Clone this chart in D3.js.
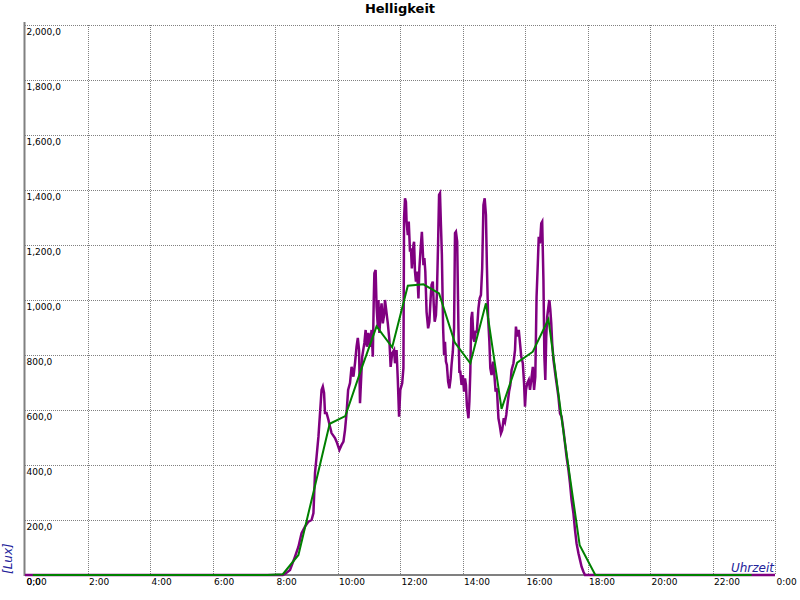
<!DOCTYPE html>
<html>
<head>
<meta charset="utf-8">
<script src="https://cdn.jsdelivr.net/npm/d3@7"></script>
<style>
  html, body { margin: 0; padding: 0; background: #fff; }
  svg { display: block; }
</style>
</head>
<body>
<svg id="chart" width="800" height="600"></svg>
<script>
// ---- data ----
const title = "Helligkeit";
const yAxisTitle = "[Lux]";
const xAxisTitle = "Uhrzeit";

const yTickValues = [0, 200, 400, 600, 800, 1000, 1200, 1400, 1600, 1800, 2000];
const yTickLabels = ["0,0", "200,0", "400,0", "600,0", "800,0", "1,000,0", "1,200,0", "1,400,0", "1,600,0", "1,800,0", "2,000,0"];
const xTickValues = [0, 2, 4, 6, 8, 10, 12, 14, 16, 18, 20, 22, 24];
const xTickLabels = ["0:00", "2:00", "4:00", "6:00", "8:00", "10:00", "12:00", "14:00", "16:00", "18:00", "20:00", "22:00", "0:00"];

// measured brightness (purple), hour of day -> lux
const measuredHours = [0, 8.25, 8.32, 8.48, 8.64, 8.75, 8.85, 8.96, 9.07, 9.17, 9.23, 9.28, 9.33, 9.39, 9.44, 9.49, 9.53, 9.57, 9.60, 9.65, 9.71, 9.76, 9.81, 9.92, 9.97, 10.06, 10.13, 10.19, 10.24, 10.29, 10.34,
  10.40, 10.45, 10.51, 10.56, 10.61, 10.65, 10.69, 10.72, 10.75, 10.79, 10.86, 10.90, 10.94, 10.99, 11.04, 11.09, 11.13, 11.16, 11.18, 11.22, 11.25, 11.29, 11.31, 11.34, 11.38, 11.41, 11.45, 11.49, 11.52, 11.57, 11.61, 11.66, 11.70, 11.75, 11.81, 11.84, 11.89, 11.93, 11.97, 12.01, 12.07, 12.11,
  12.13, 12.16, 12.19, 12.21, 12.25, 12.28, 12.32, 12.35, 12.38, 12.43, 12.45, 12.48, 12.51, 12.55, 12.59, 12.62, 12.66, 12.70, 12.75, 12.78, 12.81, 12.85, 12.90, 12.94, 12.98, 13.01, 13.05, 13.08, 13.11, 13.15, 13.18, 13.22, 13.25, 13.28, 13.31, 13.34, 13.38, 13.41, 13.44, 13.47, 13.50, 13.54, 13.58, 13.62, 13.65, 13.69, 13.73,
  13.76, 13.79, 13.83, 13.87, 13.90, 13.93, 13.97, 14.01, 14.05, 14.08, 14.11, 14.14, 14.19, 14.22, 14.25, 14.28, 14.31, 14.35, 14.38, 14.42, 14.46, 14.51, 14.55, 14.59, 14.63, 14.67, 14.71, 14.75, 14.78, 14.82, 14.86, 14.89, 14.93, 14.98, 15.02, 15.06, 15.10, 15.15, 15.19, 15.23, 15.27, 15.32, 15.36, 15.40, 15.45, 15.49,
  15.53, 15.57, 15.63, 15.68, 15.71, 15.75, 15.80, 15.84, 15.88, 15.93, 15.97, 16.00, 16.03, 16.07, 16.12, 16.16, 16.20, 16.25, 16.29, 16.33, 16.37, 16.41, 16.44, 16.48, 16.52, 16.55, 16.59, 16.62, 16.65, 16.68, 16.71, 16.75, 16.78, 16.81, 16.84, 16.87, 16.91, 16.94, 16.98, 17.01, 17.07, 17.12, 17.17, 17.23, 17.28, 17.33, 17.39, 17.44, 17.49, 17.55, 17.60, 17.65, 17.71, 17.76, 17.81, 17.87, 17.92, 24];
const measuredLux = [0, 0, 4, 18, 67, 103, 152, 176, 194, 200, 225, 371, 430, 503, 588, 673, 685, 662, 589, 589, 564, 539, 516, 498, 485, 455, 473, 485, 527, 589, 673,
  698, 757, 721, 770, 830, 862, 818, 625, 698, 794, 844, 891, 830, 880, 830, 891, 794, 1000, 1097, 1109, 976, 903, 1000, 880, 952, 988, 915, 945, 1000, 952, 915, 855, 757, 806, 818, 770, 818, 709, 576, 673, 697, 753,
  1298, 1370, 1357, 1285, 1236, 1285, 1176, 1188, 1115, 1200, 1212, 1103, 1067, 1103, 1006, 1115, 1188, 1248, 1127, 1152, 1103, 957, 897, 921, 1006, 1055, 1067, 982, 921, 945, 1018, 1212, 1382, 1388, 1273, 1164, 897, 800, 848, 776, 764, 703, 679, 715, 764, 812, 897,
  1243, 1248, 1212, 897, 739, 739, 691, 727, 667, 715, 691, 618, 570, 630, 739, 933, 957, 861, 848, 885, 885, 970, 1006, 1018, 1115, 1345, 1370, 1309, 1127, 933, 848, 752, 727, 776, 727, 667, 679, 570, 545, 515, 527, 570, 557, 582, 630, 667,
  691, 745, 770, 818, 903, 867, 891, 843, 794, 770, 697, 612, 673, 697, 709, 673, 709, 757, 673, 721, 1012, 1133, 1230, 1206, 1279, 1285, 1073, 794, 709, 867, 939, 976, 1000, 964, 915, 843, 782, 757, 721, 697, 648, 588, 576, 527, 479, 430, 382, 333, 273, 224, 164, 115, 79, 55, 30, 12, 0, 0];

// half-hourly average (green)
const avgHours = [0.25, 0.75, 1.25, 1.75, 2.25, 2.75, 3.25, 3.75, 4.25, 4.75, 5.25, 5.75, 6.25, 6.75, 7.25, 7.75, 8.25, 8.75, 9.25, 9.75, 10.25, 10.75, 11.25, 11.75, 12.25, 12.75, 13.25, 13.75, 14.25, 14.75, 15.25, 15.75, 16.25, 16.75, 17.25, 17.75, 18.25, 18.75, 19.25, 19.75, 20.25, 20.75, 21.25, 21.75, 22.25, 22.75, 23.25];
const avgLux = [0, 0, 0, 0, 0, 0, 0, 0, 0, 0, 0, 0, 0, 0, 0, 0, 3, 73, 310, 550, 578, 745, 904, 828, 1052, 1057, 1024, 846, 770, 988, 604, 772, 812, 930, 505, 108, 0, 0, 0, 0, 0, 0, 0, 0, 0, 0, 0];

// ---- drawing ----
const svg = d3.select("#chart");
const x = d3.scaleLinear().domain([0, 24]).range([25, 775]);
const y = d3.scaleLinear().domain([0, 2000]).range([575, 25]);

const font = "'DejaVu Sans', Verdana, sans-serif";

// grid
const grid = svg.append("g").attr("stroke", "#808080").attr("stroke-width", 1).attr("stroke-dasharray", "1,1");
grid.selectAll("line.h").data(yTickValues.filter(v => v > 0)).join("line")
  .attr("x1", x(0)).attr("x2", x(24))
  .attr("y1", d => Math.round(y(d)) + 0.5).attr("y2", d => Math.round(y(d)) + 0.5);
grid.selectAll("line.v").data(xTickValues.filter(v => v > 0)).join("line")
  .attr("y1", y(2000)).attr("y2", y(0))
  .attr("x1", d => Math.round(x(d)) + 0.5).attr("x2", d => Math.round(x(d)) + 0.5);

// axes lines
svg.append("line").attr("x1", x(0) - 0.5).attr("x2", x(0) - 0.5).attr("y1", y(2000) - 3).attr("y2", y(0) + 1)
  .attr("stroke", "#808080").attr("stroke-width", 2);
svg.append("line").attr("x1", x(0) - 1).attr("x2", x(24)).attr("y1", y(0)).attr("y2", y(0))
  .attr("stroke", "#808080").attr("stroke-width", 2);

// y tick labels
svg.append("g").selectAll("text").data(yTickValues).join("text")
  .attr("x", x(0) + 1.5).attr("y", d => y(d) + 10)
  .attr("font-family", font).attr("font-size", 9).attr("fill", "#000")
  .text((d, i) => yTickLabels[i]);

// x tick labels
svg.append("g").selectAll("text").data(xTickValues).join("text")
  .attr("x", d => x(d) + 1.5).attr("y", 584.5)
  .attr("font-family", font).attr("font-size", 9).attr("fill", "#000")
  .text((d, i) => xTickLabels[i]);

// lines
const measured = measuredHours.map((h, i) => [h, measuredLux[i]]);
const avg = avgHours.map((h, i) => [h, avgLux[i]]);
const line = d3.line().x(d => x(d[0])).y(d => y(d[1]));

svg.append("path").datum(measured).attr("d", line)
  .attr("fill", "none").attr("stroke", "#800080").attr("stroke-width", 2.5).attr("stroke-linejoin", "miter");
svg.append("path").datum(avg).attr("d", line)
  .attr("fill", "none").attr("stroke", "#008000").attr("stroke-width", 2);

// titles
svg.append("text").attr("x", 400).attr("y", 13).attr("text-anchor", "middle")
  .attr("font-family", font).attr("font-weight", "bold").attr("font-size", 13).attr("fill", "#000")
  .text(title);
svg.append("text").attr("transform", "translate(12,574) rotate(-90)")
  .attr("font-family", font).attr("font-style", "italic").attr("font-size", 12).attr("fill", "#22229a")
  .text(yAxisTitle);
svg.append("text").attr("x", 774).attr("y", 572).attr("text-anchor", "end")
  .attr("font-family", font).attr("font-style", "italic").attr("font-size", 12).attr("fill", "#22229a")
  .text(xAxisTitle);
</script>
</body>
</html>
